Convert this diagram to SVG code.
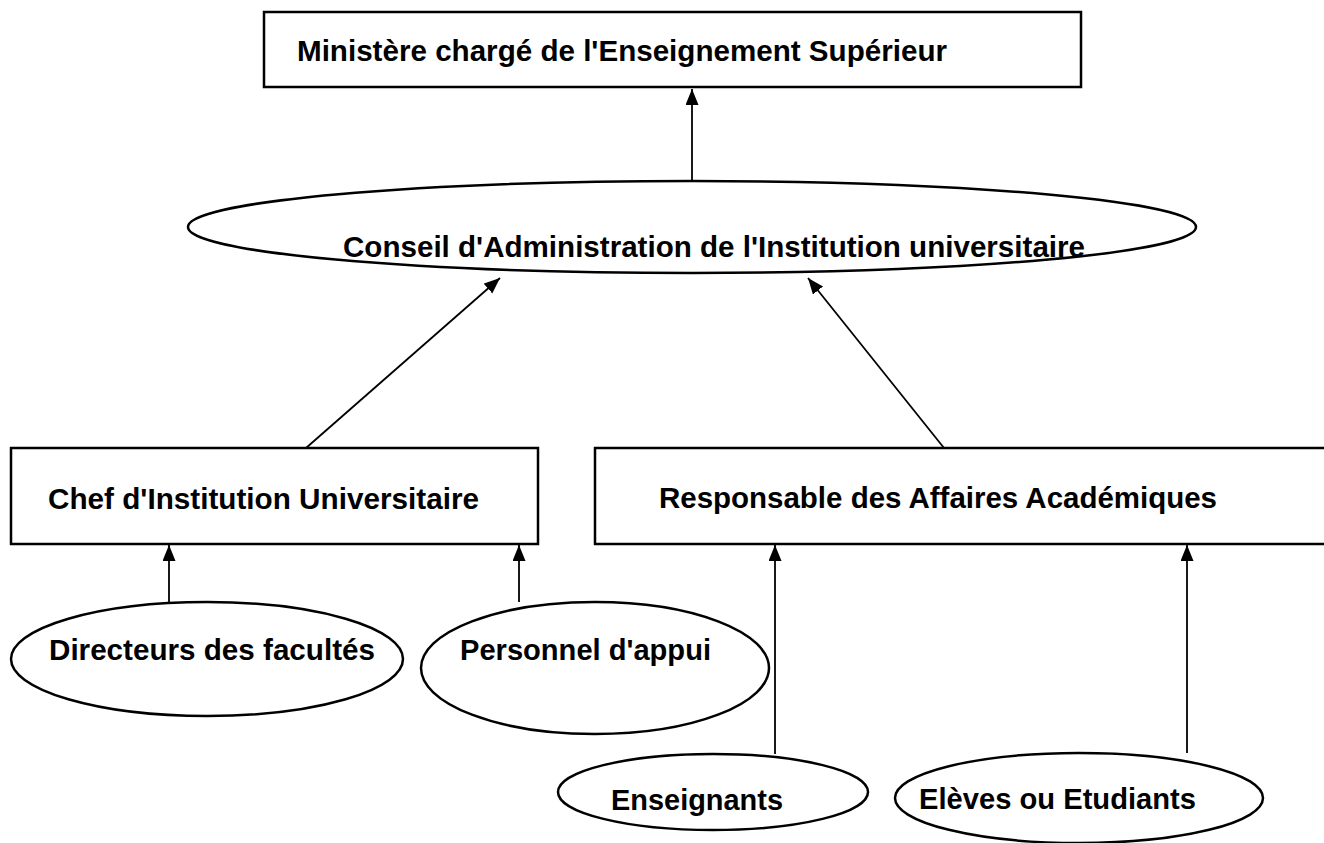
<svg xmlns="http://www.w3.org/2000/svg" width="1324" height="843" viewBox="0 0 1324 843">
<defs>
<style>
.box{fill:#fff;stroke:#000;stroke-width:2.5}
.lbl{font-family:"Liberation Sans",Arial,sans-serif;font-weight:bold;font-size:29px;fill:#000}
.con{stroke:#000;stroke-width:1.8;fill:none}
</style>
<marker id="ah" markerUnits="userSpaceOnUse" markerWidth="17" markerHeight="14" refX="16" refY="6.5" orient="auto">
<path d="M0,0 L16,6.5 L0,13 z" fill="#000"/>
</marker>
</defs>
<rect width="1324" height="843" fill="#fff"/>
<g id="ministere">
<rect class="box" x="264" y="12" width="817" height="75"/>
<text class="lbl" x="297" y="61" textLength="650" lengthAdjust="spacingAndGlyphs">Ministère chargé de l'Enseignement Supérieur</text>
</g>
<g id="conseil">
<ellipse class="box" cx="692" cy="227" rx="504" ry="46"/>
<text class="lbl" x="343" y="257" textLength="742" lengthAdjust="spacingAndGlyphs">Conseil d'Administration de l'Institution universitaire</text>
</g>
<g id="chef">
<rect class="box" x="11" y="448" width="527" height="96"/>
<text class="lbl" x="48" y="509" textLength="431" lengthAdjust="spacingAndGlyphs">Chef d'Institution Universitaire</text>
</g>
<g id="responsable">
<rect class="box" x="595" y="448" width="740" height="96"/>
<text class="lbl" x="659" y="508" textLength="558" lengthAdjust="spacingAndGlyphs">Responsable des Affaires Académiques</text>
</g>
<g id="directeurs">
<ellipse class="box" cx="207" cy="659" rx="196" ry="57"/>
<text class="lbl" x="49" y="660" textLength="326" lengthAdjust="spacingAndGlyphs">Directeurs des facultés</text>
</g>
<g id="personnel">
<ellipse class="box" cx="595" cy="668" rx="174" ry="66"/>
<text class="lbl" x="460" y="660" textLength="251" lengthAdjust="spacingAndGlyphs">Personnel d'appui</text>
</g>
<g id="enseignants">
<ellipse class="box" cx="713" cy="792" rx="155" ry="38"/>
<text class="lbl" x="611" y="810" textLength="172" lengthAdjust="spacingAndGlyphs">Enseignants</text>
</g>
<g id="eleves">
<ellipse class="box" cx="1079" cy="798" rx="184" ry="45"/>
<text class="lbl" x="919" y="809" textLength="277" lengthAdjust="spacingAndGlyphs">Elèves ou Etudiants</text>
</g>
<g id="connectors">
<line class="con" x1="692" y1="181" x2="692" y2="89" marker-end="url(#ah)"/>
<line class="con" x1="306" y1="448" x2="500" y2="278" marker-end="url(#ah)"/>
<line class="con" x1="944" y1="448" x2="808" y2="278" marker-end="url(#ah)"/>
<line class="con" x1="169" y1="602" x2="169" y2="545" marker-end="url(#ah)"/>
<line class="con" x1="519" y1="602" x2="519" y2="545" marker-end="url(#ah)"/>
<line class="con" x1="775" y1="754" x2="775" y2="545" marker-end="url(#ah)"/>
<line class="con" x1="1187" y1="753" x2="1187" y2="545" marker-end="url(#ah)"/>
</g>
</svg>
